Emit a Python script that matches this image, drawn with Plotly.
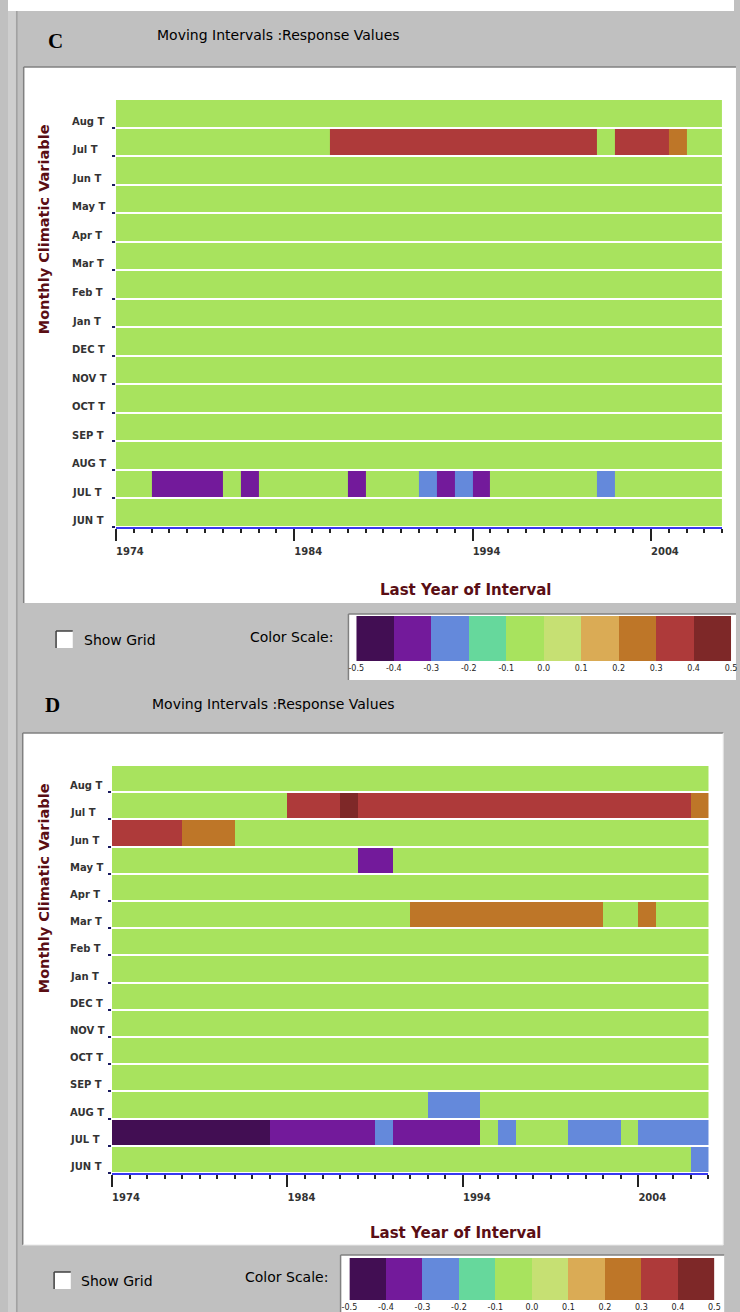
import plotly.graph_objects as go

# ---------------- data ----------------
year_edges = list(range(1974, 2009))          # cell edges: cell k spans [year, year+1)
year_ticks_start = 1974
row_names = ["JUN T", "JUL T", "AUG T", "SEP T", "OCT T", "NOV T", "DEC T",
             "Jan T", "Feb T", "Mar T", "Apr T", "May T", "Jun T", "Jul T", "Aug T"]
scale_edges = [-0.5, -0.4, -0.3, -0.2, -0.1, 0.0, 0.1, 0.2, 0.3, 0.4, 0.5]
scale_labels = ["-0.5", "-0.4", "-0.3", "-0.2", "-0.1", "0.0", "0.1", "0.2", "0.3", "0.4", "0.5"]
scale_values = [-0.45, -0.35, -0.25, -0.15, -0.05, 0.05, 0.15, 0.25, 0.35, 0.45]
scale_colors = ["#420E53", "#731A9B", "#6489DB", "#66D89C", "#A8E35E",
                "#C6E073", "#DAAB55", "#BE7628", "#AE3A3A", "#7E2828"]
NS = -0.05   # non-significant response (background class)

# Panel C  (1974 ... 2007)
c_JUL_T = [-0.05, -0.05, -0.35, -0.35, -0.35, -0.35, -0.05, -0.35, -0.05, -0.05,
           -0.05, -0.05, -0.05, -0.35, -0.05, -0.05, -0.05, -0.25, -0.35, -0.25,
           -0.35, -0.05, -0.05, -0.05, -0.05, -0.05, -0.05, -0.25, -0.05, -0.05,
           -0.05, -0.05, -0.05, -0.05]
c_Jul_T = [-0.05, -0.05, -0.05, -0.05, -0.05, -0.05, -0.05, -0.05, -0.05, -0.05,
           -0.05, -0.05, 0.35, 0.35, 0.35, 0.35, 0.35, 0.35, 0.35, 0.35,
           0.35, 0.35, 0.35, 0.35, 0.35, 0.35, 0.35, -0.05, 0.35, 0.35,
           0.35, 0.25, -0.05, -0.05]

# Panel D  (1974 ... 2007)
d_Jul_T = [-0.05, -0.05, -0.05, -0.05, -0.05, -0.05, -0.05, -0.05, -0.05, -0.05,
           0.35, 0.35, 0.35, 0.45, 0.35, 0.35, 0.35, 0.35, 0.35, 0.35,
           0.35, 0.35, 0.35, 0.35, 0.35, 0.35, 0.35, 0.35, 0.35, 0.35,
           0.35, 0.35, 0.35, 0.25]
d_Jun_T = [0.35, 0.35, 0.35, 0.35, 0.25, 0.25, 0.25, -0.05, -0.05, -0.05,
           -0.05, -0.05, -0.05, -0.05, -0.05, -0.05, -0.05, -0.05, -0.05, -0.05,
           -0.05, -0.05, -0.05, -0.05, -0.05, -0.05, -0.05, -0.05, -0.05, -0.05,
           -0.05, -0.05, -0.05, -0.05]
d_May_T = [-0.05, -0.05, -0.05, -0.05, -0.05, -0.05, -0.05, -0.05, -0.05, -0.05,
           -0.05, -0.05, -0.05, -0.05, -0.35, -0.35, -0.05, -0.05, -0.05, -0.05,
           -0.05, -0.05, -0.05, -0.05, -0.05, -0.05, -0.05, -0.05, -0.05, -0.05,
           -0.05, -0.05, -0.05, -0.05]
d_Mar_T = [-0.05, -0.05, -0.05, -0.05, -0.05, -0.05, -0.05, -0.05, -0.05, -0.05,
           -0.05, -0.05, -0.05, -0.05, -0.05, -0.05, -0.05, 0.25, 0.25, 0.25,
           0.25, 0.25, 0.25, 0.25, 0.25, 0.25, 0.25, 0.25, -0.05, -0.05,
           0.25, -0.05, -0.05, -0.05]
d_AUG_T = [-0.05, -0.05, -0.05, -0.05, -0.05, -0.05, -0.05, -0.05, -0.05, -0.05,
           -0.05, -0.05, -0.05, -0.05, -0.05, -0.05, -0.05, -0.05, -0.25, -0.25,
           -0.25, -0.05, -0.05, -0.05, -0.05, -0.05, -0.05, -0.05, -0.05, -0.05,
           -0.05, -0.05, -0.05, -0.05]
d_JUL_T = [-0.45, -0.45, -0.45, -0.45, -0.45, -0.45, -0.45, -0.45, -0.45, -0.35,
           -0.35, -0.35, -0.35, -0.35, -0.35, -0.25, -0.35, -0.35, -0.35, -0.35,
           -0.35, -0.05, -0.25, -0.05, -0.05, -0.05, -0.25, -0.25, -0.25, -0.05,
           -0.25, -0.25, -0.25, -0.25]
d_JUN_T = [-0.05, -0.05, -0.05, -0.05, -0.05, -0.05, -0.05, -0.05, -0.05, -0.05,
           -0.05, -0.05, -0.05, -0.05, -0.05, -0.05, -0.05, -0.05, -0.05, -0.05,
           -0.05, -0.05, -0.05, -0.05, -0.05, -0.05, -0.05, -0.05, -0.05, -0.05,
           -0.05, -0.05, -0.05, -0.25]

panel_c_rows = {"JUL T": c_JUL_T, "Jul T": c_Jul_T}
panel_d_rows = {"Jul T": d_Jul_T, "Jun T": d_Jun_T, "May T": d_May_T, "Mar T": d_Mar_T,
                "AUG T": d_AUG_T, "JUL T": d_JUL_T, "JUN T": d_JUN_T}

# ---------------- helpers ----------------
W, H = 740, 1312
def X(p): return p / W
def Y(p): return 1 - p / H

ncols = len(year_edges) - 1
def build(rows):
    return [rows.get(n, [NS] * ncols) for n in row_names]

cs = []
for i, c in enumerate(scale_colors):
    cs += [[i / 10, c], [(i + 1) / 10, c]]

GRAY = "#C0C0C0"
TITLE_COL = "#5A0E14"
TICK_COL = "#333333"
FONT = "DejaVu Sans"

fig = go.Figure()

panels = [
    dict(z=build(panel_c_rows), xa="x", ya="y", xd=[X(110), X(728)], yd=[Y(527), Y(99)],
         sxa="x3", sya="y3", sxd=[X(355), X(737)], syd=[Y(661), Y(616)],
         lab_x=63, lab_shift=-8),
    dict(z=build(panel_d_rows), xa="x2", ya="y2", xd=[X(106), X(714)], yd=[Y(1173), Y(765)],
         sxa="x4", sya="y4", sxd=[X(348), X(720)], syd=[Y(1300), Y(1258)],
         lab_x=61, lab_shift=-7),
]

layout_axes = {}
annotations = []
for k, p in enumerate(panels):
    fig.add_trace(go.Heatmap(
        z=p["z"], x=year_edges, y=list(range(len(row_names) + 1)),
        colorscale=cs, zmin=-0.5, zmax=0.5, showscale=False, ygap=2,
        xaxis=p["xa"], yaxis=p["ya"], hoverinfo="skip"))
    fig.add_trace(go.Heatmap(
        z=[scale_values], x=scale_edges, y=[0, 1],
        colorscale=cs, zmin=-0.5, zmax=0.5, showscale=False,
        xaxis=p["sxa"], yaxis=p["sya"], hoverinfo="skip"))

    xn = "xaxis" if p["xa"] == "x" else "xaxis" + p["xa"][1:]
    yn = "yaxis" if p["ya"] == "y" else "yaxis" + p["ya"][1:]
    layout_axes[xn] = dict(
        domain=p["xd"], anchor=p["ya"], range=[year_edges[0], year_edges[-1]],
        tickmode="linear", tick0=year_ticks_start, dtick=10,
        ticks="outside", ticklen=12, tickwidth=2, tickcolor="#222222",
        showline=True, linecolor="#3838F0", linewidth=2,
        tickfont=dict(family=FONT, size=10, color=TICK_COL, weight="bold"),
        ticklabelshift=14, ticklabelstandoff=2,
        minor=dict(ticks="outside", ticklen=4, tickwidth=1.5, tickcolor="#222222",
                   dtick=1, tick0=year_ticks_start, showgrid=False),
        showgrid=False, zeroline=False, fixedrange=True)
    layout_axes[yn] = dict(
        domain=p["yd"], anchor=p["xa"], range=[0, len(row_names)],
        tickmode="array", tickvals=list(range(len(row_names))),
        ticks="outside", ticklen=3, tickwidth=1.5, tickcolor="#1A1A60",
        showticklabels=False, showline=False, showgrid=False, zeroline=False,
        fixedrange=True)
    sxn = "xaxis" + p["sxa"][1:]
    syn = "yaxis" + p["sya"][1:]
    layout_axes[sxn] = dict(
        domain=p["sxd"], anchor=p["sya"], range=[scale_edges[0], scale_edges[-1]],
        tickmode="array", tickvals=scale_edges, ticktext=scale_labels,
        ticks="", ticklabelstandoff=1, ticklabeloverflow="allow",
        tickfont=dict(family=FONT, size=8, color="#222222"),
        showline=False, showgrid=False, zeroline=False, fixedrange=True)
    layout_axes[syn] = dict(
        domain=p["syd"], anchor=p["sxa"], range=[0, 1], visible=False, fixedrange=True)

    for i, name in enumerate(row_names):
        annotations.append(dict(
            text=name, xref="paper", yref=p["ya"], x=X(p["lab_x"]), y=i + 0.5,
            xanchor="left", yanchor="middle", yshift=p["lab_shift"], showarrow=False,
            font=dict(family=FONT, size=10, color=TICK_COL, weight="bold")))

# text annotations (paper positions)
def ann(text, x, y, size, color="#000000", family=FONT, weight="normal", xanchor="left",
        angle=0):
    annotations.append(dict(text=text, xref="paper", yref="paper", x=X(x), y=Y(y),
                            xanchor=xanchor, yanchor="middle", showarrow=False,
                            textangle=angle,
                            font=dict(family=family, size=size, color=color, weight=weight)))

for lab, lx, ly, tx, ty, ytitle, xtx, xty, cbx, cby, csx, csy in [
        ("C", 48, 41, 150, 35, 229, 467, 590, 75, 640, 245, 637),
        ("D", 45, 705, 145, 704, 888, 457, 1233, 72, 1281, 240, 1277)]:
    ann(lab, lx, ly, 21, family="Liberation Serif", weight="bold", xanchor="center")
    ann("Moving Intervals :Response Values", tx, ty, 14)
    ann("Monthly Climatic Variable", 37, ytitle, 14.5, color=TITLE_COL, weight="bold",
        xanchor="center", angle=-90)
    ann("Last Year of Interval", xtx, xty, 15, color=TITLE_COL, weight="bold",
        xanchor="center")
    ann("Show Grid", cbx, cby, 14)
    ann("Color Scale:", csx, csy, 14)

def rect(x0, y0, x1, y1, fill, line=None, lw=1, layer="below"):
    return dict(type="rect", xref="paper", yref="paper", x0=X(x0), x1=X(x1),
                y0=Y(y1), y1=Y(y0), fillcolor=fill, layer=layer,
                line=dict(color=line if line else fill, width=lw if line else 0))

def hline(x0, x1, y, color, lw=1, layer="below"):
    return dict(type="line", xref="paper", yref="paper", x0=X(x0), x1=X(x1), y0=Y(y), y1=Y(y),
                line=dict(color=color, width=lw), layer=layer)

def vline(x, y0, y1, color, lw=1, layer="below"):
    return dict(type="line", xref="paper", yref="paper", x0=X(x), x1=X(x), y0=Y(y0), y1=Y(y1),
                line=dict(color=color, width=lw), layer=layer)

shapes = [
    rect(0, 0, 740, 11, "#FFFFFF"),
    rect(0, 11, 8, 1312, "#CECECE"),
    vline(9, 11, 1312, "#A0A0A0", 1.5),
    # white chart panels
    rect(16, 67, 742, 603, "#FFFFFF"),
    hline(16, 742, 67, "#808080", 1.5), vline(16, 67, 603, "#808080", 1.5),
    rect(15, 733, 729, 1245, "#FFFFFF"),
    hline(15, 729, 733, "#808080", 1.5), vline(15, 733, 1245, "#808080", 1.5),
    hline(15, 729, 1245, "#E8E8E8", 1), vline(729, 733, 1245, "#E8E8E8", 1),
    # colour scale boxes
    rect(347, 614, 742, 680, "#FFFFFF"),
    hline(347, 742, 614, "#808080", 1.5), vline(347, 614, 680, "#808080", 1.5),
    rect(339, 1255, 730, 1314, "#FFFFFF"),
    hline(339, 730, 1255, "#808080", 1.5), vline(339, 1255, 1314, "#808080", 1.5),
    # check boxes
    rect(49, 631, 66, 648, "#FFFFFF"),
    hline(49, 66, 631, "#404040", 1.5), vline(49, 631, 648, "#404040", 1.5),
    rect(47, 1272, 64, 1289, "#FFFFFF"),
    hline(47, 64, 1272, "#404040", 1.5), vline(47, 1272, 1289, "#404040", 1.5),
]

fig.update_layout(
    width=W, height=H, margin=dict(l=0, r=0, t=0, b=0),
    paper_bgcolor=GRAY, plot_bgcolor="#FFFFFF", showlegend=False,
    annotations=annotations, shapes=shapes, **layout_axes)

fig.write_html(
    "out.html", config={"displayModeBar": False, "responsive": False},
    post_script=("document.documentElement.style.margin='0px';"
                 "document.body.style.margin='0px';"
                 "document.body.style.overflow='hidden';"))
